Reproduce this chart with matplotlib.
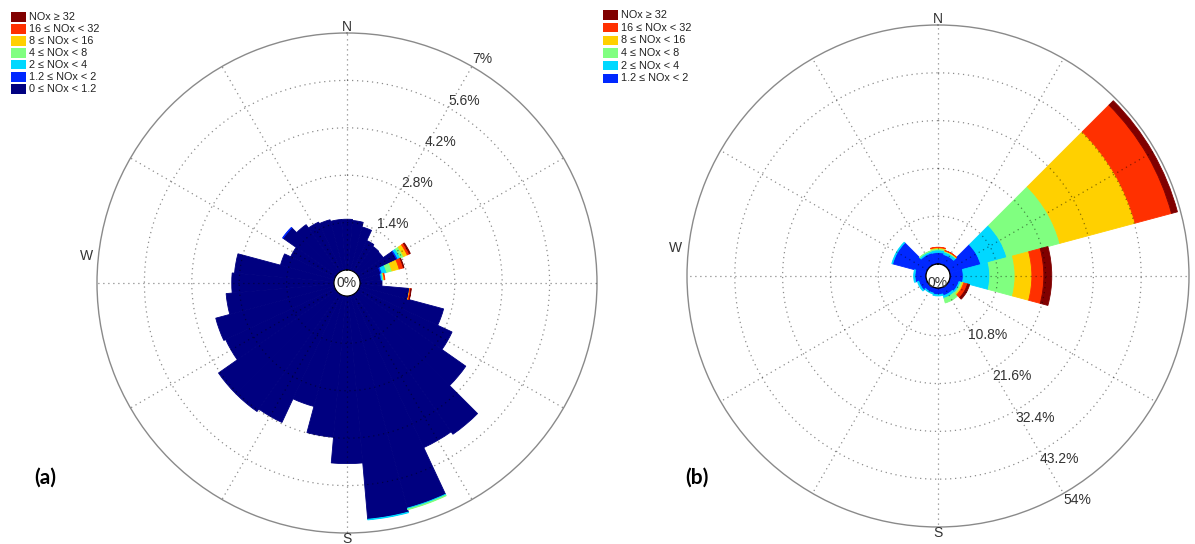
import numpy as np
import matplotlib
matplotlib.use("Agg")
import matplotlib.pyplot as plt
from matplotlib.patches import Rectangle

plt.rcParams['font.family'] = ['Liberation Sans', 'DejaVu Sans']

W, H = 1195, 544

# NOx classes, lowest first
COLORS = ['#000080', '#0028ff', '#00d8ff', '#80ff80', '#ffd000', '#ff3000', '#800000']
LABELS = ['0 \u2264 NOx < 1.2', '1.2 \u2264 NOx < 2', '2 \u2264 NOx < 4', '4 \u2264 NOx < 8',
          '8 \u2264 NOx < 16', '16 \u2264 NOx < 32', 'NOx \u2265 32']

# ---- panel (a): 36 direction bins of 10 deg, frequency in %
dirs_a = list(range(0, 360, 10))
a_navy = [1.50, 1.47, 1.33, 1.00, 0.94, 0.92, 1.24, 0.65, 0.62, 0.65,
          1.47, 2.57, 3.04, 3.90, 5.07, 4.98, 6.50, 6.62, 4.95, 4.19,
          3.39, 4.16, 4.25, 4.25, 3.57, 3.63, 3.20, 3.02, 2.95, 1.65,
          1.45, 1.92, 1.72, 1.60, 1.55, 1.50]
a_blue = [0, 0, 0, 0, 0, 0, 0.04, 0.04, 0.02, 0, 0, 0, 0, 0, 0, 0, 0, 0,
          0, 0, 0, 0, 0, 0, 0, 0, 0, 0, 0, 0, 0, 0.02, 0, 0, 0, 0]
a_cyan = [0, 0, 0, 0, 0, 0, 0.08, 0.14, 0.04, 0, 0, 0, 0, 0, 0, 0, 0.03, 0.02,
          0, 0, 0, 0, 0, 0, 0, 0, 0, 0, 0, 0, 0, 0, 0, 0, 0, 0]
a_green = [0, 0, 0, 0, 0, 0, 0.10, 0.16, 0.03, 0, 0, 0, 0, 0, 0, 0, 0.02, 0,
           0, 0, 0, 0, 0, 0, 0, 0, 0, 0, 0, 0, 0, 0, 0, 0, 0, 0]
a_yellow = [0, 0, 0, 0, 0, 0, 0.12, 0.22, 0.01, 0, 0.01, 0, 0, 0, 0, 0, 0, 0,
            0, 0, 0, 0, 0, 0, 0, 0, 0, 0, 0, 0, 0, 0, 0, 0, 0, 0]
a_red = [0, 0, 0, 0, 0, 0, 0.07, 0.13, 0.02, 0, 0.03, 0, 0, 0, 0, 0, 0, 0,
         0, 0, 0, 0, 0, 0, 0, 0, 0, 0, 0, 0, 0, 0, 0, 0, 0, 0]
a_dred = [0, 0, 0, 0, 0, 0, 0.03, 0.02, 0, 0, 0.01, 0, 0, 0, 0, 0, 0, 0,
          0, 0, 0, 0, 0, 0, 0, 0, 0, 0, 0, 0, 0, 0, 0, 0, 0, 0]
rings_a = [1.4, 2.8, 4.2, 5.6, 7.0]
ring_labels_a = ['1.4%', '2.8%', '4.2%', '5.6%', '7%']

# ---- panel (b): 12 direction bins of 30 deg
dirs_b = list(range(0, 360, 30))
b_navy = [0.3, 0.3, 0.3, 0.3, 0.3, 0.3, 0.3, 0.3, 0.3, 0.3, 0.3, 0.3]
b_blue = [2.3, 2.0, 7.0, 2.7, 1.9, 1.6, 1.2, 1.0, 1.5, 2.2, 7.6, 2.4]
b_cyan = [0.6, 0.6, 6.1, 6.0, 0.4, 0.6, 0.3, 0.2, 0.3, 0.3, 0.2, 0.4]
b_green = [0.3, 0.2, 12.4, 5.7, 0.4, 1.1, 0, 0, 0, 0, 0, 0.1]
b_yellow = [0.2, 0.1, 17.6, 3.8, 0.3, 0, 0, 0, 0, 0, 0, 0]
b_red = [0.1, 0.05, 8.5, 2.7, 0.9, 0, 0, 0, 0, 0, 0, 0]
b_dred = [0, 0, 1.4, 1.8, 0.5, 0, 0, 0, 0, 0, 0, 0]
rings_b = [10.8, 21.6, 32.4, 43.2, 54.0]
ring_labels_b = ['10.8%', '21.6%', '32.4%', '43.2%', '54%']


def draw_rose(ax, dirs, width, classes, rings, ring_labels, hole, lab_theta, lab_va, zero_y):
    ax.set_theta_zero_location('N')
    ax.set_theta_direction(-1)
    theta = np.deg2rad(dirs)
    bottom = np.zeros(len(dirs))
    for vals, c in zip(classes, COLORS):
        vals = np.asarray(vals, dtype=float)
        m = vals > 0
        if m.any():
            ax.bar(theta[m], vals[m], width=np.deg2rad(width), bottom=bottom[m],
                   color=c, edgecolor=c, linewidth=0.6, align='center', zorder=2)
        bottom = bottom + vals
    rmax = rings[-1]
    ax.set_ylim(0, rmax)
    ax.set_rorigin(-hole)
    ax.grid(False)
    ax.set_xticks([])
    ax.set_yticks([])
    ax.spines['inner'].set_visible(False)
    ax.spines['polar'].set_color('#8a8a8a')
    ax.spines['polar'].set_linewidth(1.0)

    t = np.linspace(0, 2 * np.pi, 721)
    for r in rings[:-1]:
        ax.plot(t, np.full_like(t, r), ls=(0, (1, 3)), color='k', alpha=0.45, lw=0.9, zorder=3)
    for d in range(0, 360, 30):
        a = np.deg2rad(d)
        ax.plot([a, a], [0, rmax], ls=(0, (1, 3)), color='k', alpha=0.45, lw=0.9, zorder=3)

    for r, lab in zip(rings, ring_labels):
        ax.text(np.deg2rad(lab_theta), r, lab, ha='left', va=lab_va,
                fontsize=10, color='#333333', zorder=5)
    ax.text(0.5, zero_y, '0%', transform=ax.transAxes, ha='center', va='center',
            fontsize=10, color='#333333', zorder=5)
    ax.text(0.5, 1.012, 'N', transform=ax.transAxes, ha='center', va='center',
            fontsize=10, color='#333333')
    ax.text(0.5, -0.012, 'S', transform=ax.transAxes, ha='center', va='center',
            fontsize=10, color='#333333')
    ax.text(-0.022, 0.555, 'W', transform=ax.transAxes, ha='center', va='center',
            fontsize=10, color='#333333')


def draw_legend(fig, x0, y_rows, labels, colors):
    for y, lab, c in zip(y_rows, labels, colors):
        fig.add_artist(Rectangle((x0 / W, 1 - (y + 4.5) / H), 15 / W, 9 / H,
                                 transform=fig.transFigure, facecolor=c, edgecolor='none'))
        fig.text((x0 + 18) / W, 1 - y / H, lab, ha='left', va='center',
                 fontsize=7.8, color='#222222')


fig = plt.figure(figsize=(W / 100, H / 100), dpi=100)

ax_a = fig.add_axes([(347 - 250) / W, 1 - (283 + 250) / H, 500 / W, 500 / H], projection='polar')
draw_rose(ax_a, dirs_a, 10, [a_navy, a_blue, a_cyan, a_green, a_yellow, a_red, a_dred],
          rings_a, ring_labels_a, 0.384, 30, 'bottom', 0.5)

ax_b = fig.add_axes([(938 - 251) / W, 1 - (276 + 251) / H, 502 / W, 502 / H], projection='polar')
draw_rose(ax_b, dirs_b, 30, [b_navy, b_blue, b_cyan, b_green, b_yellow, b_red, b_dred],
          rings_b, ring_labels_b, 2.7, 150, 'top', 0.486)

# legends, top entry first
draw_legend(fig, 11, [17, 29, 41, 53, 65, 77, 89], LABELS[::-1], COLORS[::-1])
draw_legend(fig, 603, [15, 27.7, 40.3, 53, 65.7, 78.3], LABELS[::-1][:6], COLORS[::-1][:6])

fig.text(45 / W, 1 - 478 / H, '(a)', ha='center', va='center', fontsize=15,
         fontweight='bold', family=['Lato', 'DejaVu Sans'])
fig.text(697 / W, 1 - 478 / H, '(b)', ha='center', va='center', fontsize=15,
         fontweight='bold', family=['Lato', 'DejaVu Sans'])

fig.savefig('out.png', dpi=100)
